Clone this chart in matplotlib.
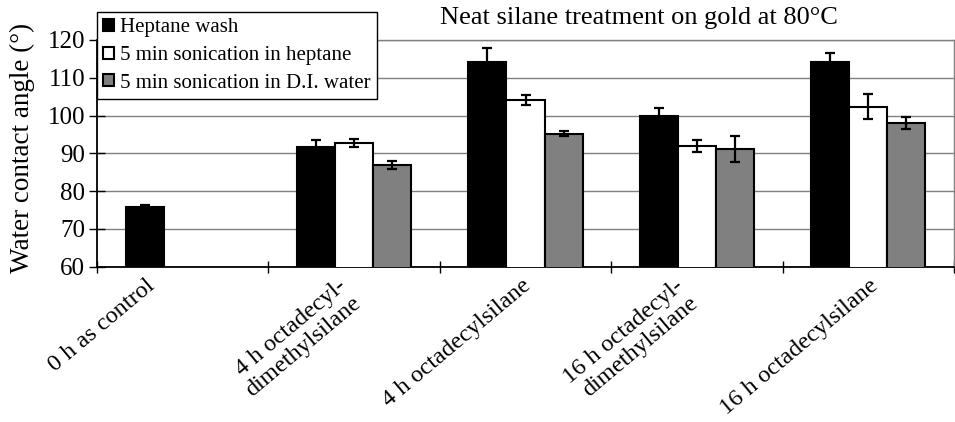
import numpy as np
import matplotlib
matplotlib.use('Agg')
import matplotlib.pyplot as plt
from matplotlib.transforms import ScaledTranslation

categories = ["0 h as control", "4 h octadecyl-\ndimethylsilane", "4 h octadecylsilane",
              "16 h octadecyl-\ndimethylsilane", "16 h octadecylsilane"]
series = ["Heptane wash", "5 min sonication in heptane", "5 min sonication in D.I. water"]
heptane_wash = [75.7, 91.7, 114.2, 100.0, 114.1]
heptane_wash_err = [0.6, 1.7, 3.8, 1.9, 2.4]
sonic_heptane = [np.nan, 92.7, 104.0, 91.9, 102.3]
sonic_heptane_err = [np.nan, 1.1, 1.3, 1.7, 3.3]
sonic_water = [np.nan, 86.9, 95.2, 91.2, 98.0]
sonic_water_err = [np.nan, 1.1, 0.7, 3.4, 1.5]
yticks = [60, 70, 80, 90, 100, 110, 120]

# label shifts (px) so rotated labels sit like the original
label_dx = [-37, -17, -4, -23, 0]

plt.rcParams.update({"font.family": "Liberation Serif", "font.size": 18})

fig = plt.figure(figsize=(9.55, 4.22), dpi=100)
ax = fig.add_axes([97/955, 1-266.5/422, 857/955, 226.5/422])

COLORS = ["black", "white", "#808080"]
vals = [heptane_wash, sonic_heptane, sonic_water]
errs = [heptane_wash_err, sonic_heptane_err, sonic_water_err]
x = np.arange(len(categories))
w = 1/4.5
handles = []
for i in range(3):
    off = (i-1)*w
    b = ax.bar(x+off, vals[i], w, bottom=0, color=COLORS[i], edgecolor="black",
               lw=1.5, zorder=3, label=series[i])
    handles.append(b)
    ax.errorbar(x+off, vals[i], yerr=errs[i], fmt="none", ecolor="black",
                elinewidth=1.6, capsize=3.5, capthick=1.6, zorder=4)

ax.set_ylim(60, 120)
ax.set_xlim(-0.5, len(categories)-0.5)
ax.set_yticks(yticks)
ax.yaxis.grid(True, color="#808080", lw=1.0, zorder=0)
ax.set_xticks(np.arange(len(categories)+1)-0.5)
ax.set_xticklabels([])
ax.tick_params(axis="x", direction="inout", length=8, width=1)
ax.tick_params(axis="y", direction="inout", length=11, width=1, pad=3)
for s in ["left", "bottom"]:
    ax.spines[s].set_color("black")
    ax.spines[s].set_linewidth(1.3)
for s in ["top", "right"]:
    ax.spines[s].set_color("#808080")
    ax.spines[s].set_linewidth(1.0)

for i, lab in enumerate(categories):
    tr = ax.get_xaxis_transform() + ScaledTranslation(label_dx[i]/100, -9/100,
                                                      fig.dpi_scale_trans)
    ax.text(i, 0, lab, transform=tr, rotation=40, rotation_mode="anchor",
            ha="right", va="top", multialignment="right", fontsize=17.5,
            linespacing=1.12)

ax.set_ylabel("Water contact angle (°)", fontsize=19.5)
ax.yaxis.set_label_coords(-0.072, 0.525)

fig.text(639/955, 1-18/422, "Neat silane treatment on gold at 80°C",
         ha="center", va="center", fontsize=19)

leg = fig.legend(handles=handles, loc="upper left",
                 bbox_to_anchor=(97/955, 1-12/422), borderaxespad=0,
                 fontsize=15, handlelength=0.5, handleheight=0.5,
                 handletextpad=0.3, labelspacing=0.42, borderpad=0.3,
                 fancybox=False, framealpha=1, edgecolor="black")
leg.get_frame().set_linewidth(1.0)
leg.set_zorder(10)

fig.savefig("out.png", dpi=100)
